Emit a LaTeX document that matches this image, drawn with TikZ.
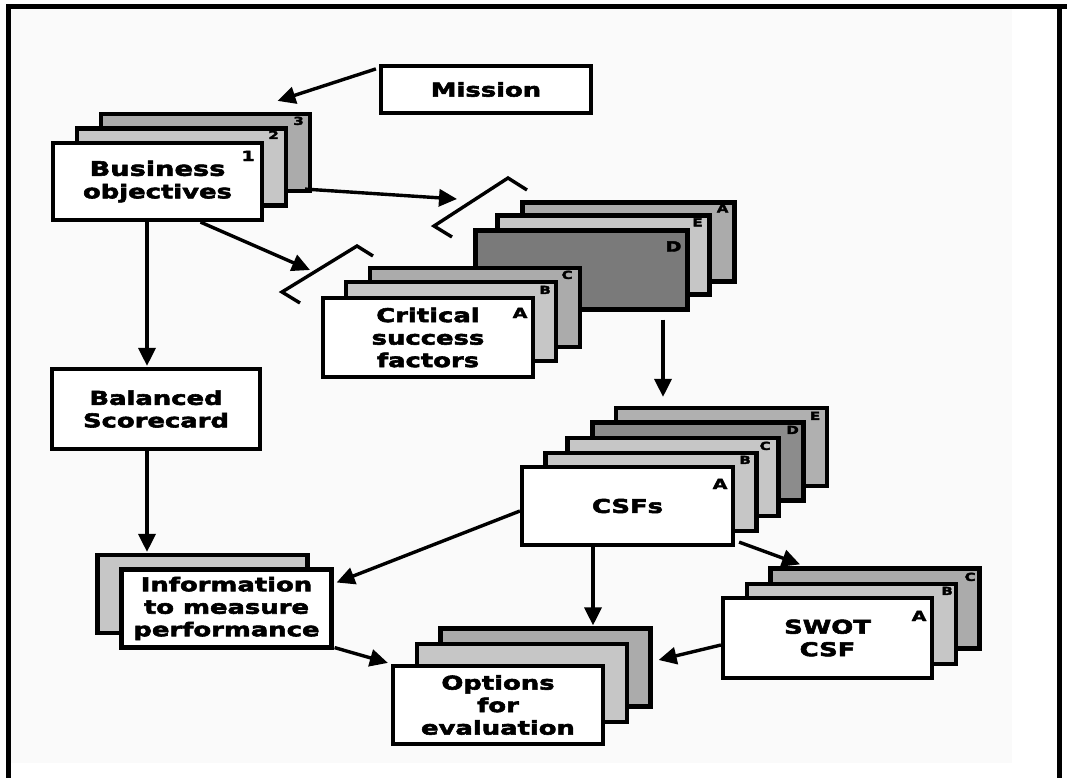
\documentclass[tikz,border=0pt]{standalone}
\usepackage{fontspec}
\newfontfamily\heavy{DejaVu Sans}[FakeStretch=1.36,FakeBold=3,BoldFeatures={FakeStretch=1.36,FakeBold=3}]
\usetikzlibrary{arrows.meta,calc}
\definecolor{paper}{HTML}{FAFAFA}
\definecolor{pale}{HTML}{C6C6C6}
\definecolor{mid}{HTML}{ABABAB}
\definecolor{deep}{HTML}{7A7A7A}
\definecolor{deepish}{HTML}{8C8C8C}
\begin{document}
\begin{tikzpicture}[x=1pt,y=-1pt,
  sheet/.style={draw, line width=4.2pt, fill=white, inner sep=0pt,
    minimum width=210pt, minimum height=78pt, align=center,
    font=\heavy\bfseries\fontsize{19}{22.5}\selectfont},
  tag/.style={font=\heavy\bfseries\fontsize{11}{11}\selectfont, inner sep=0pt},
  fronttag/.style={font=\heavy\bfseries\fontsize{14}{14}\selectfont, inner sep=0pt},
  flow/.style={line width=3.4pt, -{Triangle[length=18pt,width=17pt]}},
  bracket/.style={line width=3.4pt, line join=miter}]
\useasboundingbox (0,0) rectangle (1067,778);
% page and frame
\fill[white] (0,0) rectangle (1067,778);
\fill[paper] (11,9) rectangle (1012,763);
\fill (7,4) rectangle (1067,9);
\fill (6,4) rectangle (11,778);
\fill (1057,4) rectangle (1062,778);

% mission
\node[sheet, minimum height=47pt] (mission) at (486,89.5) {Mission};

% business objectives
\node[sheet, fill=mid, minimum width=209pt, minimum height=77pt] (bo3) at (205.5,152.5) {};
\node[sheet, fill=pale, minimum width=209pt, minimum height=77pt] (bo2) at (181.5,167) {};
\node[sheet, minimum width=209pt, minimum height=77pt] (bo1) at (157.5,181.5) {\fontsize{20}{22}\selectfont Business\\objectives};
\node[tag] (bo3t) at ($(bo3.north east)+(-13.5,9)$) {3};
\node[tag] (bo2t) at ($(bo2.north east)+(-14.5,8.5)$) {2};
\node[fronttag] (bo1t) at ($(bo1.north east)+(-16,15)$) {1};

% second group of factors
\node[sheet, fill=mid, minimum width=212pt, minimum height=79pt] (da) at (628.5,242) {};
\node[sheet, fill=pale, minimum width=212pt, minimum height=79pt] (de) at (603.5,255) {};
\node[sheet, fill=deep, minimum width=212pt, minimum height=79pt] (dd) at (581.5,270) {};
\node[tag] (dat) at ($(da.north east)+(-14,8)$) {A};
\node[tag] (det) at ($(de.north east)+(-14,9)$) {E};
\node[fronttag] (ddt) at ($(dd.north east)+(-16,18)$) {D};

% critical success factors
\node[sheet, fill=mid, minimum height=79pt] (kc) at (475,307.5) {};
\node[sheet, fill=pale, minimum height=79pt] (kb) at (451,321.5) {};
\node[sheet, minimum height=79pt] (ka) at (428,337.5) {Critical\\success\\factors};
\node[tag] (kct) at ($(kc.north east)+(-15,9)$) {C};
\node[tag] (kbt) at ($(kb.north east)+(-13,10)$) {B};
\node[fronttag] (kat) at ($(ka.north east)+(-15,17)$) {A};

% balanced scorecard
\node[sheet, minimum width=208pt, minimum height=80pt] (bal) at (156,409) {Balanced\\Scorecard};

% CSFs
\node[sheet, fill=mid!80!pale, minimum width=211pt] (ce) at (721.5,447) {};
\node[sheet, fill=deepish, minimum width=211pt] (cd) at (698,461.5) {};
\node[sheet, fill=pale, minimum width=211pt] (cc) at (673,477) {};
\node[sheet, fill=pale, minimum width=211pt] (cb) at (651,492) {};
\node[sheet, minimum width=211pt] (ca) at (627.5,506) {CSFs};
\node[tag] (cet) at ($(ce.north east)+(-14,10)$) {E};
\node[tag] (cdt) at ($(cd.north east)+(-13,9.5)$) {D};
\node[tag] (cct) at ($(cc.north east)+(-15.5,10)$) {C};
\node[tag] (cbt) at ($(cb.north east)+(-13.5,9)$) {B};
\node[fronttag] (cat) at ($(ca.north east)+(-15,19)$) {A};

% information to measure performance
\node[sheet, fill=pale] (inf2) at (202.5,594) {};
\node[sheet] (inf1) at (226.5,608.5) {Information\\to measure\\performance};

% options for evaluation
\node[sheet, fill=mid] (opt3) at (545.5,667.5) {};
\node[sheet, fill=pale] (opt2) at (522,683) {};
\node[sheet] (opt1) at (498,705) {Options\\for\\evaluation};

% SWOT CSF
\node[sheet, fill=mid, minimum width=209pt, minimum height=80pt] (sw3) at (875,608.5) {};
\node[sheet, fill=pale, minimum width=209pt, minimum height=80pt] (sw2) at (851.5,624) {};
\node[sheet, minimum width=209pt, minimum height=80pt] (sw1) at (827.5,638) {SWOT\\CSF};
\node[tag] (sw3t) at ($(sw3.north east)+(-11.5,10.5)$) {C};
\node[tag] (sw2t) at ($(sw2.north east)+(-11,9)$) {B};
\node[fronttag] (sw1t) at ($(sw1.north east)+(-15,20)$) {A};

% brackets
\coordinate (b1a) at (452,237);
\coordinate (b1b) at (434,226);
\coordinate (b1c) at (508,178);
\coordinate (b1d) at (527,190);
\coordinate (b1in) at (457,199);
\draw[bracket] (b1a) -- (b1b) -- (b1c) -- (b1d);
\coordinate (b2a) at (300,303);
\coordinate (b2b) at (282,292);
\coordinate (b2c) at (357,246);
\coordinate (b2d) at (373,256);
\coordinate (b2in) at (310,270);
\draw[bracket] (b2a) -- (b2b) -- (b2c) -- (b2d);

% connectors
\draw[flow] ([xshift=-3pt,yshift=-5pt]mission.north west) -- ([xshift=72pt,yshift=11pt]bo3.north);
\draw[flow] ([xshift=-7pt,yshift=4pt]bo3.south east) -- (b1in);
\draw[flow] ([xshift=43pt]bo1.south) -- (b2in);
\draw[flow] ([xshift=-10.5pt]bo1.south) -- ([xshift=-9pt,yshift=1pt]bal.north);
\draw[flow] ([xshift=-9pt]bal.south) -- ([xshift=-55.5pt,yshift=1pt]inf2.north);
\draw[flow] ([xshift=81.5pt,yshift=-8pt]dd.south) -- ([xshift=-58.5pt,yshift=9pt]ce.north);
\draw[flow] ([yshift=-5pt]ca.west) -- ([xshift=3pt,yshift=26pt]inf1.east);
\draw[flow] ([xshift=1pt,yshift=2pt]inf1.south east) -- ([xshift=-3pt,yshift=1pt]opt1.north west);
\draw[flow] ([xshift=-34.5pt]ca.south) -- ([xshift=47.5pt,yshift=1pt]opt3.north);
\draw[flow] ([xshift=4pt,yshift=5pt]ca.south east) -- ([xshift=-75pt,yshift=2pt]sw3.north);
\draw[flow] ([yshift=-7pt]sw1.west) -- ([xshift=6pt,yshift=7.5pt]opt3.east);
\end{tikzpicture}
\end{document}
